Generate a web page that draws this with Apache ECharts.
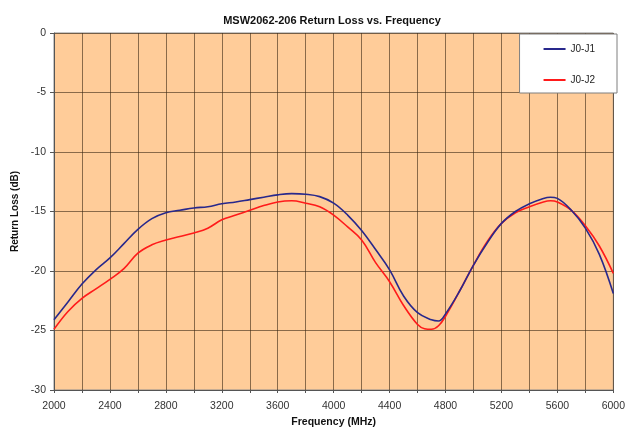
<!DOCTYPE html>
<html>
<head>
<meta charset="utf-8">
<script src="https://cdn.jsdelivr.net/npm/echarts@6/dist/echarts.min.js"></script>
<style>
html,body{margin:0;padding:0;background:#fff;}
#c{width:628px;height:433px;}
</style>
</head>
<body>
<div id="c"></div>
<script>
var freqJ1 = [2000,2100,2200,2300,2400,2500,2600,2700,2800,2900,3000,3100,3200,3300,3400,3500,3600,3700,3800,3900,4000,4100,4200,4300,4400,4500,4600,4700,4750,4800,4900,5000,5100,5200,5300,5400,5500,5550,5600,5700,5800,5900,6000];
var lossJ1 = [-24.1,-22.6,-21.1,-19.9,-18.9,-17.7,-16.5,-15.6,-15.1,-14.9,-14.7,-14.6,-14.35,-14.2,-14.0,-13.8,-13.6,-13.5,-13.55,-13.75,-14.3,-15.3,-16.6,-18.2,-19.9,-22.1,-23.5,-24.1,-24.2,-23.6,-21.7,-19.5,-17.6,-16.0,-15.0,-14.35,-13.9,-13.8,-13.9,-14.9,-16.4,-18.6,-21.9];
var freqJ2 = [2000,2100,2200,2300,2400,2500,2600,2700,2800,2900,3000,3100,3200,3300,3400,3500,3600,3700,3800,3900,4000,4100,4200,4300,4400,4500,4600,4650,4700,4750,4800,4900,5000,5100,5200,5300,5400,5500,5550,5600,5700,5800,5900,6000];
var lossJ2 = [-24.9,-23.4,-22.3,-21.5,-20.7,-19.8,-18.5,-17.8,-17.4,-17.1,-16.8,-16.4,-15.7,-15.3,-14.9,-14.5,-14.2,-14.1,-14.3,-14.6,-15.3,-16.3,-17.4,-19.3,-20.9,-22.9,-24.5,-24.85,-24.9,-24.6,-23.8,-21.7,-19.5,-17.5,-16.0,-15.1,-14.6,-14.2,-14.1,-14.2,-14.9,-16.2,-17.9,-20.2];
var seriesNames = ['J0-J1','J0-J2'];

function pairs(xs, ys){ return xs.map(function(x,i){ return [x, ys[i]]; }); }

var chart = echarts.init(document.getElementById('c'));
var font = 'Liberation Sans, Arial, sans-serif';
chart.setOption({
  animation: false,
  backgroundColor: '#ffffff',
  title: {
    text: 'MSW2062-206 Return Loss vs. Frequency',
    left: 327, top: 10, textAlign: 'center',
    textStyle: {fontFamily: font, fontSize: 11, fontWeight: 'bold', color: '#111'}
  },
  legend: {
    data: seriesNames,
    orient: 'vertical',
    right: 11, top: 34,
    backgroundColor: '#ffffff',
    borderColor: '#7f7f7f', borderWidth: 1,
    padding: [10, 22, 8, 24],
    itemGap: 21,
    itemWidth: 22, itemHeight: 2,
    icon: 'rect',
    textStyle: {fontFamily: font, fontSize: 10, color: '#222'}
  },
  grid: {left: 54, right: 12, top: 33, bottom: 40, show: true, backgroundColor: '#ffcc99', borderColor: '#8c8c8c', borderWidth: 1},
  xAxis: {
    type: 'value', min: 2000, max: 6000, interval: 200,
    name: 'Frequency (MHz)', nameLocation: 'middle', nameGap: 27,
    nameTextStyle: {fontFamily: font, fontSize: 10.5, fontWeight: 'bold', color: '#111'},
    axisLine: {show: true, onZero: false, lineStyle: {color: '#555', width: 1}},
    axisTick: {show: true, length: 3, lineStyle: {color: '#555'}},
    axisLabel: {
      fontFamily: font, fontSize: 10.5, color: '#333', margin: 11,
      formatter: function(v){ return ((v - 2000) % 400 === 0) ? String(v) : ''; }
    },
    splitLine: {show: true, lineStyle: {color: 'rgba(60,40,20,0.6)', width: 1}}
  },
  yAxis: {
    type: 'value', min: -30, max: 0, interval: 5,
    name: 'Return Loss (dB)', nameLocation: 'middle', nameGap: 30,
    nameTextStyle: {fontFamily: font, fontSize: 10, fontWeight: 'bold', color: '#111'},
    axisLine: {show: true, onZero: false, lineStyle: {color: '#555', width: 1}},
    axisTick: {show: true, length: 4, lineStyle: {color: '#555'}},
    axisLabel: {fontFamily: font, fontSize: 10.5, color: '#333', margin: 8},
    splitLine: {show: true, lineStyle: {color: 'rgba(60,40,20,0.6)', width: 1}}
  },
  series: [
    {name: seriesNames[0], type: 'line', data: pairs(freqJ1, lossJ1), smooth: 0.4, showSymbol: false, symbol: 'none',
     lineStyle: {color: '#28288c', width: 1.6}, itemStyle: {color: '#28288c'}, z: 3},
    {name: seriesNames[1], type: 'line', data: pairs(freqJ2, lossJ2), smooth: 0.4, showSymbol: false, symbol: 'none',
     lineStyle: {color: '#ff1a1a', width: 1.6}, itemStyle: {color: '#ff1a1a'}, z: 2}
  ]
});
</script>
</body>
</html>
